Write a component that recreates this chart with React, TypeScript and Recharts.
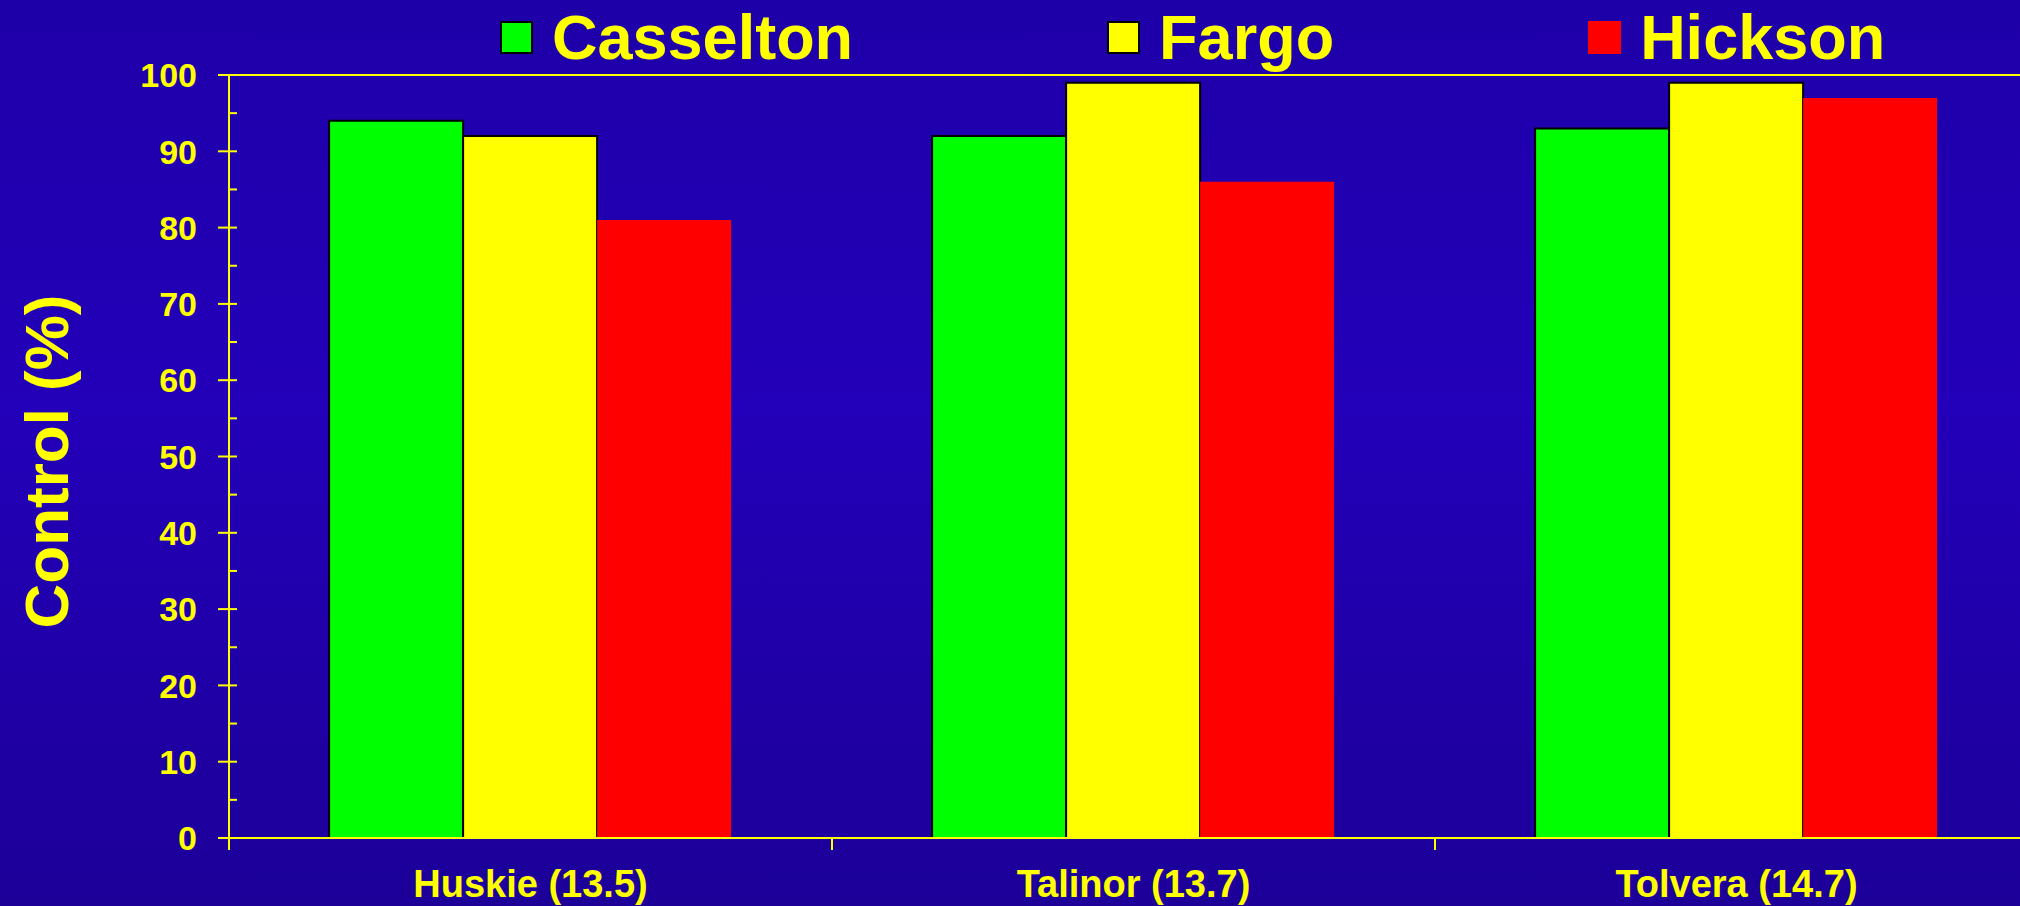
import React from "react";
import { BarChart, Bar, XAxis, YAxis, ReferenceLine, Legend } from "recharts";

const varieties = ["Huskie (13.5)", "Talinor (13.7)", "Tolvera (14.7)"];
const casselton = [94, 92, 93];
const fargo = [92, 99, 99];
const hickson = [81, 86, 97];
const yTicks = [0, 5, 10, 15, 20, 25, 30, 35, 40, 45, 50, 55, 60, 65, 70, 75, 80, 85, 90, 95, 100];

const YELLOW = "#ffff00";
const FONT = "'Liberation Sans', Arial, Helvetica, sans-serif";

const series = [
  { key: "Casselton", fill: "#00ff00", stroke: "#000000" },
  { key: "Fargo", fill: "#ffff00", stroke: "#000000" },
  { key: "Hickson", fill: "#ff0000", stroke: "none" },
];

const data = varieties.map((name, i) => ({
  name,
  Casselton: casselton[i],
  Fargo: fargo[i],
  Hickson: hickson[i],
}));

function YTick(props: any) {
  const { x, y, payload } = props;
  const major = payload.value % 10 === 0;
  return (
    <g>
      <line x1={major ? x - 11 : x} x2={x + 8} y1={y} y2={y} stroke={YELLOW} strokeWidth={2} />
      {major && (
        <text
          x={x - 32}
          y={y}
          dy="0.36em"
          textAnchor="end"
          fill={YELLOW}
          fontFamily={FONT}
          fontWeight="bold"
          fontSize={34}
        >
          {payload.value}
        </text>
      )}
    </g>
  );
}

function XTick(props: any) {
  const { x, y, payload, width, visibleTicksCount } = props;
  const half =
    typeof payload.offset === "number" && payload.offset > 0
      ? payload.offset
      : width / visibleTicksCount / 2;
  const left = x - half;
  return (
    <g>
      <line x1={left} x2={left} y1={y - 12} y2={y} stroke={YELLOW} strokeWidth={2} />
      <text
        x={x}
        y={y + 47}
        textAnchor="middle"
        fill={YELLOW}
        fontFamily={FONT}
        fontWeight="bold"
        fontSize={38}
      >
        {payload.value}
      </text>
    </g>
  );
}

function renderLegend() {
  return (
    <div style={{ display: "flex", alignItems: "center" }}>
      {series.map((s) => (
        <div
          key={s.key}
          style={{ display: "flex", alignItems: "center", marginRight: 254 }}
        >
          <span
            style={{
              display: "inline-block",
              width: s.stroke === "none" ? 33 : 29,
              height: s.stroke === "none" ? 33 : 29,
              background: s.fill,
              border: s.stroke === "none" ? "none" : "2px solid #000",
              marginRight: 19,
            }}
          />
          <span
            style={{
              color: YELLOW,
              fontFamily: FONT,
              fontWeight: "bold",
              fontSize: 63,
              lineHeight: 1,
            }}
          >
            {s.key}
          </span>
        </div>
      ))}
    </div>
  );
}

function YLabel(props: any) {
  const { viewBox } = props;
  const cx = viewBox.x + 68;
  const cy = viewBox.y + viewBox.height / 2 + 5;
  return (
    <text
      x={cx}
      y={cy}
      textAnchor="middle"
      transform={`rotate(-90, ${cx}, ${cy})`}
      fill={YELLOW}
      fontFamily={FONT}
      fontWeight="bold"
      fontSize={62}
    >
      Control (%)
    </text>
  );
}

export default function App() {
  return (
    <div
      style={{
        position: "fixed",
        left: 0,
        top: 0,
        width: 2020,
        height: 906,
        overflow: "hidden",
        background: "linear-gradient(to bottom, #1e00a8 0%, #2300b9 45%, #1c0098 100%)",
      }}
    >
      <BarChart
        width={2040}
        height={906}
        data={data}
        margin={{ top: 75, right: 2, bottom: 0, left: 0 }}
        barCategoryGap="16.6%"
        barGap={0}
      >
        <Legend
          content={renderLegend}
          layout="horizontal"
          verticalAlign="middle"
          align="center"
          wrapperStyle={{ top: 6, left: 500, width: 1500 }}
        />
        <XAxis
          dataKey="name"
          height={68}
          interval={0}
          axisLine={{ stroke: YELLOW, strokeWidth: 2 }}
          tickLine={false}
          tickSize={12}
          tickMargin={0}
          tick={<XTick />}
        />
        <YAxis
          width={229}
          domain={[0, 100]}
          ticks={yTicks}
          interval={0}
          axisLine={{ stroke: YELLOW, strokeWidth: 2 }}
          tickLine={false}
          tickSize={0}
          tickMargin={0}
          tick={<YTick />}
          label={<YLabel />}
        />
        <ReferenceLine y={100} stroke={YELLOW} strokeWidth={2} />
        {series.map((s) => (
          <Bar
            key={s.key}
            dataKey={s.key}
            fill={s.fill}
            stroke={s.stroke}
            strokeWidth={s.stroke === "none" ? 0 : 2}
            isAnimationActive={false}
          />
        ))}
      </BarChart>
    </div>
  );
}
